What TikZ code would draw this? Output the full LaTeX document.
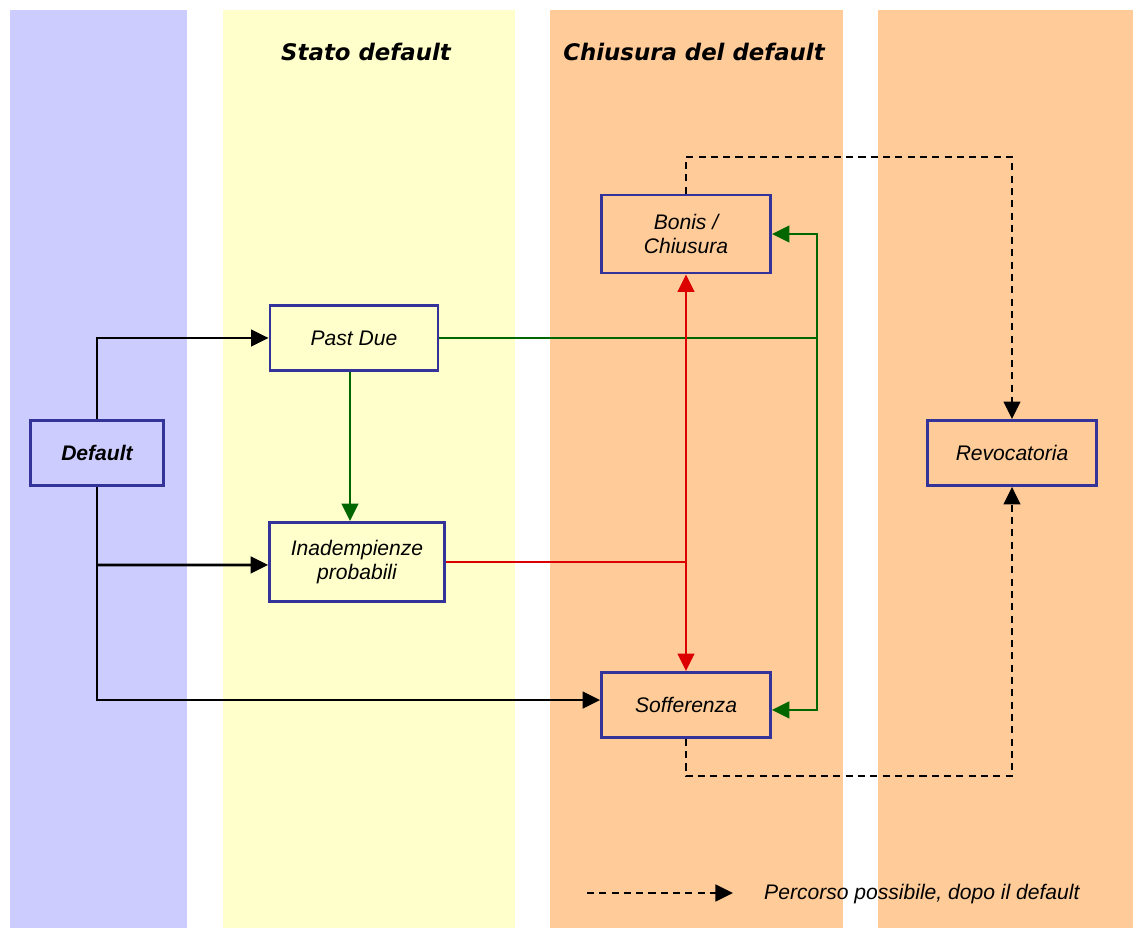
\documentclass[tikz,border=0pt]{standalone}
\usepackage{fontspec}
\setmainfont{Liberation Sans}
\newfontfamily\headfont{DejaVu Sans}
\usetikzlibrary{positioning}
\usetikzlibrary{calc}
\usetikzlibrary{arrows.meta}
\definecolor{bandblue}{HTML}{CCCCFF}
\definecolor{bandyellow}{HTML}{FFFFCC}
\definecolor{bandorange}{HTML}{FFCC99}
\definecolor{boxblue}{HTML}{333399}
\definecolor{okgreen}{HTML}{006600}
\definecolor{kored}{HTML}{DD0000}
\tikzset{
  box/.style            = { rectangle, inner sep=1pt },
  border/.style         = { line width=1.6pt, draw=boxblue },
  band/.style           = { draw=none },
}
\tikzset{
  state/.style={
    box,
    border,
    align=center,
    font=\fontsize{12}{14}\selectfont\itshape
  },
  header/.style         = { font=\headfont\fontsize{13}{15}\selectfont\bfseries\itshape },
  relation/.style       = { line width=1.5pt, draw=black, -{Triangle[length=10pt,width=9.5pt]} },
  plain/.style          = { line width=1.5pt },
  flow/.style           = { relation },
  ok/.style             = { relation, draw=okgreen, color=okgreen },
  ko/.style             = { relation, draw=kored, color=kored },
  maybe/.style          = { relation, dash pattern=on 4pt off 3pt }
}

\begin{document}
\begin{tikzpicture}[x=0.02cm, y=-0.02cm]
  \useasboundingbox (0,0) rectangle (1133,928);
  % columns
  \fill [bandblue]   (10,10)  rectangle (187,928);
  \fill [bandyellow] (223,10) rectangle (515,928);
  \fill [bandorange] (550,10) rectangle (843,928);
  \fill [bandorange] (878,10) rectangle (1133,928);

  \node (hstato) [header] at (366,52) {Stato default};
  \node (hchius) [header] at (694,52) {Chiusura del default};

  \node (default)  [state, minimum width=2.66cm, minimum height=1.3cm, font=\fontsize{12}{14}\selectfont\bfseries\itshape] at (97,453) {Default};
  \node (pastdue)  [state, minimum width=3.36cm, minimum height=1.3cm]  at (354,338) {Past Due};
  \node (inad)     [state, minimum width=3.5cm,  minimum height=1.58cm] at (357,562) {Inadempienze\\probabili};
  \node (bonis)    [state, minimum width=3.38cm, minimum height=1.56cm] at (686,234) {Bonis /\\Chiusura};
  \node (soff)     [state, minimum width=3.38cm, minimum height=1.3cm]  at (686,705) {Sofferenza};
  \node (revoc)    [state, minimum width=3.38cm, minimum height=1.3cm]  at (1012,453) {Revocatoria};

  \coordinate (gx) at (817,0);
  \coordinate (hi) at (1012,157);
  \coordinate (lo) at (1012,776);

  % from default
  \draw [flow] (default.north) |- (pastdue.west);
  \draw [flow] (default.south) |- ([yshift=2.8pt]soff.west);
  \draw [flow] (default.south |- inad.west) ++(0,3) -- ([yshift=-1.7pt]inad.west);

  % green
  \draw [ok] (pastdue.south -| 350,0) -- (inad.north -| 350,0);
  \draw [ok] (pastdue.east) -| (gx |- bonis.east) -- (bonis.east);
  \draw [ok] (gx |- pastdue.east) |- ([yshift=-2.8pt]soff.east);

  % red
  \draw [ko, {Triangle[length=10pt,width=9.5pt]}-{Triangle[length=10pt,width=9.5pt]}] (bonis.south) -- (soff.north);
  \draw [plain, kored] (inad.east) -- (inad.east -| bonis.south);

  % dashed
  \draw [maybe] (bonis.north) |- (hi) -- (revoc.north);
  \draw [maybe] (soff.south) |- (lo) -- (revoc.south);

  % legend
  \coordinate (lgstart) at (587,893);
  \coordinate (lgend)   at (733,893);
  \node (legend) [anchor=west, font=\fontsize{12}{14}\selectfont\itshape] at (758,894) {Percorso possibile, dopo il default};
  \draw [maybe] (lgstart) -- (lgend);
\end{tikzpicture}
\end{document}
